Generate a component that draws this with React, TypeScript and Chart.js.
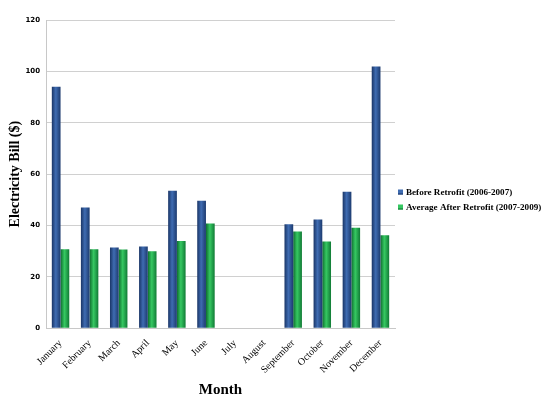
import React, { useEffect, useRef } from "react";
import { Chart, registerables } from "chart.js";

Chart.register(...registerables);

const months = ["January","February","March","April","May","June","July","August","September","October","November","December"];
const beforeRetrofit = [94, 47, 31.4, 31.8, 53.5, 49.6, null, null, 40.5, 42.3, 53.1, 101.9];
const afterRetrofit = [30.8, 30.8, 30.7, 30.0, 34, 40.8, null, null, 37.7, 33.8, 39.1, 36.2];
const seriesNames = ["Before Retrofit (2006-2007)", "Average After Retrofit (2007-2009)"];
const seriesColors = ["#2a4f8f", "#1fa04c"];

const palettes = [
  ["#1a3566", "#3f6cb2", "#1c3a6e"],
  ["#0d6e2e", "#36c862", "#107a35"],
];

const gradientPlugin = {
  id: "barGradient",
  beforeDatasetsDraw(chart: any) {
    const ctx = chart.ctx;
    chart.data.datasets.forEach((ds: any, di: number) => {
      const meta = chart.getDatasetMeta(di);
      const p = palettes[di];
      meta.data.forEach((el: any) => {
        if (!el || el.width == null || isNaN(el.x)) return;
        const x0 = el.x - el.width / 2;
        const g = ctx.createLinearGradient(x0, 0, x0 + el.width, 0);
        g.addColorStop(0, p[0]);
        g.addColorStop(0.45, p[1]);
        g.addColorStop(1, p[2]);
        el.options = { ...el.options, backgroundColor: g };
      });
    });
  },
};

const sideLegendPlugin = {
  id: "sideLegend",
  afterDraw(chart: any) {
    const ctx = chart.ctx;
    const area = chart.chartArea;
    const x = area.right + 3;
    const midY = chart.height / 2 + 0.5;
    const rowH = 15;
    const n = chart.data.datasets.length;
    ctx.save();
    ctx.font = "bold 9.1px 'Liberation Serif'";
    ctx.textBaseline = "middle";
    ctx.textAlign = "left";
    chart.data.datasets.forEach((ds: any, i: number) => {
      const y = midY - ((n - 1) * rowH) / 2 + i * rowH;
      ctx.fillStyle = palettes[i][1];
      ctx.fillRect(x, y - 3, 5, 5);
      ctx.fillStyle = palettes[i][0];
      ctx.fillRect(x, y + 1, 5, 1);
      ctx.fillStyle = "#000";
      ctx.fillText(ds.label, x + 8, y);
    });
    ctx.restore();
  },
};

export default function App() {
  const ref = useRef<HTMLCanvasElement>(null);
  useEffect(() => {
    if (!ref.current) return;
    const chart = new Chart(ref.current, {
      type: "bar",
      data: {
        labels: months,
        datasets: [
          { label: seriesNames[0], data: beforeRetrofit as any, backgroundColor: seriesColors[0], borderWidth: 0 },
          { label: seriesNames[1], data: afterRetrofit as any, backgroundColor: seriesColors[1], borderWidth: 0 },
        ],
      },
      plugins: [gradientPlugin, sideLegendPlugin],
      options: {
        responsive: true,
        maintainAspectRatio: false,
        animation: false,
        layout: { padding: { top: 20, right: 155, left: 5, bottom: 0 } },
        datasets: { bar: { categoryPercentage: 0.6, barPercentage: 1 } },
        plugins: {
          tooltip: { enabled: false },
          legend: { display: false },
        },
        scales: {
          x: {
            grid: { display: false },
            border: { color: "#c8c8c8" },
            afterFit: (scale: any) => {
              scale.paddingLeft = 0;
              scale.paddingRight = 0;
            },
            ticks: {
              minRotation: 45,
              maxRotation: 45,
              color: "#000",
              font: { family: "Liberation Serif", size: 10 },
              padding: 1,
            },
            title: {
              display: true,
              text: "Month",
              color: "#000",
              font: { family: "Liberation Serif", size: 15, weight: "bold" },
              padding: { top: 4, bottom: 0 },
            },
          },
          y: {
            min: 0,
            max: 120,
            afterFit: (scale: any) => {
              scale.width = 41;
            },
            ticks: {
              stepSize: 20,
              color: "#000",
              font: { family: "DejaVu Sans", size: 7, weight: "bold" },
              padding: 6,
            },
            grid: { color: "#d0d0d0", drawTicks: false },
            border: { color: "#c8c8c8" },
            title: {
              display: true,
              text: "Electricity Bill ($)",
              color: "#000",
              font: { family: "Liberation Serif", size: 14, weight: "bold" },
              padding: { top: 2, bottom: 3 },
            },
          },
        },
      },
    });
    return () => chart.destroy();
  }, []);
  return (
    <div style={{ position: "fixed", left: 0, top: 0, width: 550, height: 399, background: "#fff" }}>
      <canvas ref={ref} />
    </div>
  );
}
